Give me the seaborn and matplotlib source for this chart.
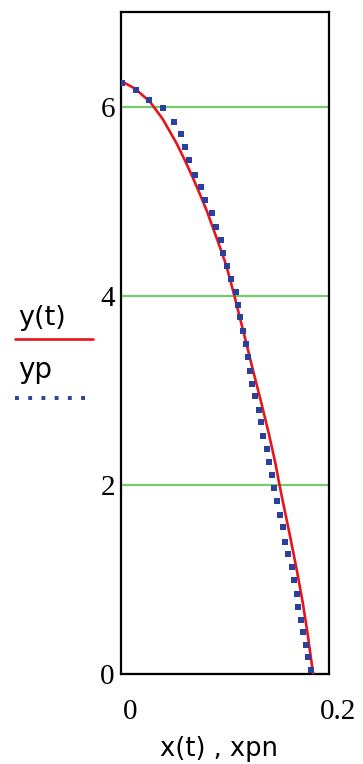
import matplotlib
matplotlib.use("Agg")
import matplotlib.pyplot as plt
from matplotlib.lines import Line2D
from matplotlib.transforms import ScaledTranslation
import pandas as pd
import seaborn as sns

# Continuous trajectory y(t) against x(t)
x_t = [0.0000, 0.0135, 0.0279, 0.0400, 0.0535, 0.0615, 0.0690, 0.0760,
       0.0824, 0.0880, 0.0936, 0.1000, 0.1045, 0.1090, 0.1154, 0.1200,
       0.1240, 0.1295, 0.1353, 0.1426, 0.1490, 0.1515, 0.1555, 0.1625,
       0.1690, 0.1747, 0.1795, 0.1840, 0.1848]
y_t = [6.27, 6.19, 6.05, 5.87, 5.61, 5.43, 5.25, 5.07,
       4.90, 4.73, 4.56, 4.36, 4.19, 4.00, 3.72, 3.52,
       3.34, 3.10, 2.85, 2.52, 2.20, 2.05, 1.83, 1.46,
       1.10, 0.76, 0.42, 0.06, 0.00]

# Discrete solution yp against xpn
xpn = [0.0013, 0.0141, 0.0269, 0.0401, 0.0507, 0.0577, 0.0615, 0.0657,
       0.0712, 0.0766, 0.0808, 0.0872, 0.0913, 0.0959, 0.0984, 0.1019,
       0.1061, 0.1103, 0.1128, 0.1147, 0.1176, 0.1199, 0.1218, 0.1238,
       0.1257, 0.1288, 0.1327, 0.1343, 0.1362, 0.1401, 0.1426, 0.1449,
       0.1471, 0.1503, 0.1529, 0.1555, 0.1577, 0.1609, 0.1641, 0.1663,
       0.1689, 0.1705, 0.1728, 0.1747, 0.1779, 0.1801, 0.1827]
yp = [6.25, 6.17, 6.07, 5.98, 5.84, 5.71, 5.57, 5.43,
      5.28, 5.15, 5.01, 4.87, 4.73, 4.59, 4.45, 4.31,
      4.18, 4.04, 3.90, 3.77, 3.63, 3.49, 3.35, 3.20,
      3.07, 2.94, 2.79, 2.66, 2.52, 2.38, 2.24, 2.10,
      1.97, 1.83, 1.68, 1.55, 1.40, 1.27, 1.13, 0.99,
      0.85, 0.71, 0.57, 0.44, 0.31, 0.18, 0.04]

y_ticks = [0, 2, 4, 6]
y_tick_labels = ["0", "2", "4", "6"]
x_ticks = [0, 0.2]
x_tick_labels = ["0", "0.2"]
x_label = "x(t) , xpn"
legend_labels = ["y(t)", "yp"]

RED = "#e8141c"
BLUE = "#2b3f9e"
GREEN = "#74cc6c"

sns.set_style("white")
plt.rcParams["font.family"] = ["DejaVu Sans"]

fig = plt.figure(figsize=(3.63, 7.64), dpi=100)
ax = fig.add_axes([121 / 363, 90 / 764, 208 / 363, 662 / 764])

curve = pd.DataFrame({"x": x_t, "y": y_t})
pts = pd.DataFrame({"x": xpn, "y": yp})

sns.lineplot(data=curve, x="x", y="y", ax=ax, color=RED, lw=1.9,
             sort=False, estimator=None, zorder=3)
sns.scatterplot(data=pts, x="x", y="y", ax=ax, color=BLUE, marker="s",
                s=14, linewidth=0, zorder=4)

ax.set_xlim(0, 0.2)
ax.set_ylim(0, 7)
ax.set_yticks(y_ticks)
ax.set_yticklabels(y_tick_labels)
ax.set_xticks(x_ticks)
ax.set_xticklabels(x_tick_labels)
ax.yaxis.grid(True, color=GREEN, lw=1.6)
ax.xaxis.grid(False)
ax.set_axisbelow(True)

for sp in ax.spines.values():
    sp.set_color("black")
    sp.set_linewidth(1.6)
    sp.set_visible(True)

ax.tick_params(axis="both", length=0)
ax.tick_params(axis="y", pad=4.5)
ax.tick_params(axis="x", pad=18)
for lab in ax.get_xticklabels() + ax.get_yticklabels():
    lab.set_fontfamily("Liberation Serif")
    lab.set_fontsize(21)
    lab.set_color("black")
for lab in ax.get_xticklabels():
    lab.set_transform(lab.get_transform() + ScaledTranslation(0.09, 0, fig.dpi_scale_trans))

ax.set_xlabel(x_label, fontsize=18.5, color="black")
ax.xaxis.set_label_coords(98 / 208, -(749 - 674) / 662)
ax.xaxis.label.set_va("center")
ax.set_ylabel("")

# Legend block to the left of the axes
fig.text(18 / 363, 1 - 324.5 / 764, legend_labels[0], fontsize=19.5,
         va="baseline", ha="left", color="black")
fig.add_artist(Line2D([15 / 363, 93 / 363], [1 - 338.5 / 764] * 2,
                      transform=fig.transFigure, color=RED, lw=1.9))
fig.text(18 / 363, 1 - 378 / 764, legend_labels[1], fontsize=20,
         va="baseline", ha="left", color="black")
fig.add_artist(Line2D([15 / 363, 90 / 363], [1 - 397.5 / 764] * 2,
                      transform=fig.transFigure, color=BLUE, lw=2.8,
                      linestyle=(0, (1.0, 2.4)), dash_capstyle="butt"))

fig.savefig("out.png", dpi=100)
